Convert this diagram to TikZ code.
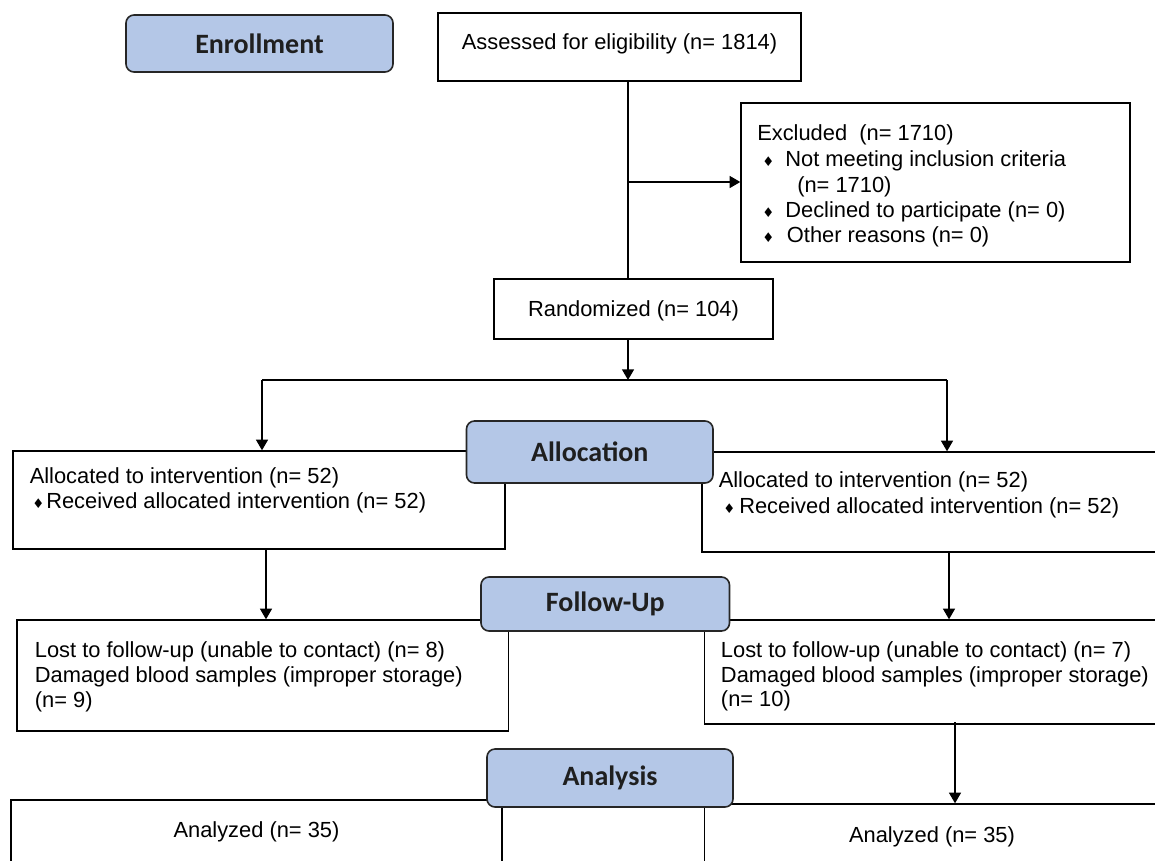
\documentclass[tikz,border=0pt]{standalone}
\usepackage{fontspec}
\setmainfont{Liberation Sans}
\newfontfamily\headfont{Carlito}
\newfontfamily\symfont{DejaVu Sans}
\usetikzlibrary{fit,arrows.meta}
\definecolor{headblue}{HTML}{B4C7E7}
\newcommand{\dmd}{{\symfont\fontsize{10}{10}\selectfont ♦}}
\begin{document}
\begin{tikzpicture}[x=0.75pt,y=-0.75pt,
 box/.style={draw=black, line width=1.05pt, fill=white, inner sep=0pt, rectangle},
 head/.style={draw=black!85, line width=1.2pt, fill=headblue, rounded corners=6pt, inner sep=0pt},
 headtxt/.style={font=\headfont\bfseries\fontsize{21}{24}\selectfont, text=black!88, inner sep=0pt, anchor=center},
 txt/.style={font=\fontsize{16.4}{19}\selectfont, inner sep=0pt, anchor=base west},
 ctxt/.style={font=\fontsize{16.4}{19}\selectfont, inner sep=0pt, anchor=base},
 arr/.style={line width=1.05pt, -{Triangle[length=8pt,width=9pt]}},
 ln/.style={line width=1.05pt}]
\useasboundingbox (0,0) rectangle (1155,860);
\clip (0,0) rectangle (1155,860);
\fill[white] (0,0) rectangle (1155,860);

% white boxes
\node[box, fit={(438,13)(801,81)}] (ass) {};
\node[box, fit={(741,103)(1130,262)}] (exc) {};
\node[box, fit={(494,279)(773,339)}] (rnd) {};
\node[box, fit={(13,451)(505,549)}] (la) {};
\node[box, fit={(702,452)(1175,552)}] (ra) {};
\node[box, fit={(17,620)(508.5,731)}] (lf) {};
\node[box, fit={(704.5,620)(1175,724)}] (rf) {};
\node[box, fit={(11,800)(502,880)}] (lan) {};
\node[box, fit={(704.5,804)(1175,880)}] (ran) {};

% texts
\node[ctxt] (asst) at (619.5,49) {Assessed for eligibility (n= 1814)};
\node[txt] (ex1) at (757,140) {Excluded\ \ (n= 1710)};
\node[txt] (ex2) at (762,166) {\makebox[17.3pt][l]{\dmd}Not meeting inclusion criteria};
\node[txt] (ex3) at (797,192) {(n= 1710)};
\node[txt] (ex4) at (762,217) {\makebox[17.3pt][l]{\dmd}Declined to participate (n= 0)};
\node[txt] (ex5) at (762,242) {\makebox[18.5pt][l]{\dmd}Other reasons (n= 0)};
\node[ctxt] (rndt) at (633.5,316) {Randomized (n= 104)};

\node[txt] (la1) at (29.5,483) {Allocated to intervention (n= 52)};
\node[txt] (la2) at (32,508) {\makebox[10.5pt][l]{\dmd}Received allocated intervention (n= 52)};
\node[txt] (ra1) at (718.5,487) {Allocated to intervention (n= 52)};
\node[txt] (ra2) at (723,513) {\makebox[12pt][l]{\dmd}Received allocated intervention (n= 52)};

\node[txt] (lf1) at (34.6,657) {Lost to follow-up (unable to contact) (n= 8)};
\node[txt] (lf2) at (34.6,682) {Damaged blood samples (improper storage)};
\node[txt] (lf3) at (34.6,707) {(n= 9)};
\node[txt] (rf1) at (720.7,657) {Lost to follow-up (unable to contact) (n= 7)};
\node[txt] (rf2) at (720.7,682) {Damaged blood samples (improper storage)};
\node[txt] (rf3) at (720.7,706) {(n= 10)};

\node[ctxt] (lant) at (256.5,837) {Analyzed (n= 35)};
\node[ctxt] (rant) at (932,842) {Analyzed (n= 35)};

% connectors
\coordinate (j1) at (628,182);
\coordinate (sp) at (628,380);
\coordinate (spL) at (262,380);
\coordinate (spR) at (947,380);
\coordinate (thA) at (545,380);
\coordinate (thB) at (663,380);
\coordinate (cL) at (266,600);
\coordinate (cR) at (949,600);
\coordinate (cA) at (955,760);

\draw[ln] (ass.south -| j1) -- (rnd.north -| j1);
\draw[arr] (j1) -- (exc.west |- j1);
\draw[arr] (rnd.south -| sp) -- (sp);
\draw[ln] (spL) -- (spR);
\draw[line width=2pt] (thA) -- (thB);
\draw[arr] (spL) -- (la.north -| spL);
\draw[arr] (spR) -- (ra.north -| spR);
\draw[arr] (la.south -| cL) -- (lf.north -| cL);
\draw[arr] (ra.south -| cR) -- (rf.north -| cR);
\draw[arr] ([yshift=2pt]rf.south -| cA) -- (ran.north -| cA);

% stage headings
\node[head, fit={(126,15)(393,72)}] (enr) {};
\node[headtxt] (enrt) at (enr.center) {Enrollment};
\node[head, fit={(466.5,421)(713,483)}] (alc) {};
\node[headtxt] (alct) at (alc.center) {Allocation};
\node[head, fit={(481,577)(729.5,631)}] (fol) {};
\node[headtxt] (folt) at (fol.center) {Follow-Up};
\node[head, fit={(487,749)(733,807)}] (ana) {};
\node[headtxt] (anat) at (ana.center) {Analysis};
\end{tikzpicture}
\end{document}
